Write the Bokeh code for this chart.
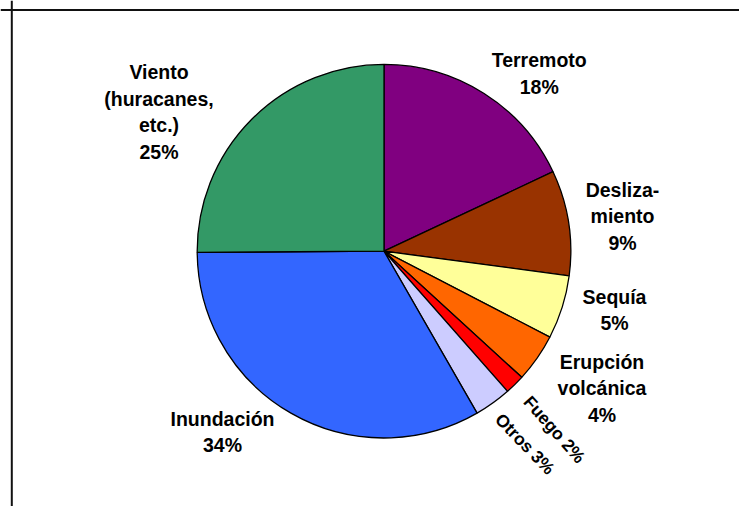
import numpy as np
from bokeh.plotting import figure
from bokeh.models import Range1d, Span, ColumnDataSource
from bokeh.embed import file_html
from bokeh.resources import INLINE
from bokeh.core.properties import value

# ---- data ----
categories = ["Terremoto", "Deslizamiento", "Sequía", "Erupción volcánica",
              "Fuego", "Otros", "Inundación", "Viento"]
shares = [18.0, 9.1, 5.5, 4.2, 1.7, 3.2, 33.2, 25.1]
label_texts = ["Terremoto\n18%", "Desliza-\nmiento\n9%", "Sequía\n5%",
               "Erupción\nvolcánica\n4%", "Fuego 2%", "Otros 3%",
               "Inundación\n34%", "Viento\n(huracanes,\netc.)\n25%"]
colors = ["#800080", "#993300", "#FFFF99", "#FF6600", "#FF0000",
          "#CCCCFF", "#3366FF", "#339966"]

# ---- layout (page pixel coords) ----
W, H = 739, 506
PAGE = 0
def dx(px):
    return px - PAGE
def dy(py):
    return (H + PAGE) - py

CX, CY, R = 383.5, 250.7, 186.8
LINE_H = 26.6
# x centre, first baseline (page px)
label_pos = [(538.7, 59.5), (622.0, 189.0), (614.0, 296.0), (601.5, 361.0),
             None, None, (222.0, 418.0), (158.5, 71.5)]
rot_pos = {4: (554.0, 429.0, -48.5), 5: (524.5, 443.5, -46.0)}

p = figure(width=W, height=H, x_range=Range1d(0, W), y_range=Range1d(0, H),
           min_border=0, output_backend="svg", toolbar_location=None,
           x_axis_location=None, y_axis_location=None)
p.grid.visible = False
p.outline_line_color = None
p.background_fill_color = "white"
p.border_fill_color = "white"

vals = np.array(shares, dtype=float)
frac = vals / vals.sum()
cum = np.concatenate([[0.0], np.cumsum(frac)])
start = np.pi / 2 - 2 * np.pi * cum[:-1]
end = np.pi / 2 - 2 * np.pi * cum[1:]

src = ColumnDataSource(dict(cat=categories, start=start, end=end, color=colors))
p.wedge(x=dx(CX), y=dy(CY), radius=R, start_angle="start", end_angle="end",
        direction="clock", fill_color="color", line_color="black",
        line_width=1.3, source=src)

# labels
xs, ys, ts = [], [], []
for i, txt in enumerate(label_texts):
    if label_pos[i] is None:
        continue
    x0, b0 = label_pos[i]
    for j, line in enumerate(txt.split("\n")):
        xs.append(dx(x0))
        ys.append(dy(b0 + j * LINE_H))
        ts.append(line)
p.text(x=xs, y=ys, text=ts, text_font=value("Liberation Sans"),
       text_font_style="bold", text_font_size="19.5px", text_align="center",
       text_baseline="alphabetic", text_color="black")

rx, ry, rt, ra = [], [], [], []
for i, (x0, y0, a) in rot_pos.items():
    rx.append(dx(x0)); ry.append(dy(y0)); rt.append(label_texts[i]); ra.append(np.deg2rad(a))
p.text(x=rx, y=ry, text=rt, angle=ra, text_font=value("Liberation Sans"),
       text_font_style="bold", text_font_size="17.5px", text_align="center",
       text_baseline="middle", text_color="black")

# frame (top and left edges visible)
p.add_layout(Span(location=dx(11.3), dimension="height", line_color="#111111", line_width=2))
p.add_layout(Span(location=dy(9.4), dimension="width", line_color="#111111", line_width=2))

open("out.html", "w").write(file_html(p, INLINE))
